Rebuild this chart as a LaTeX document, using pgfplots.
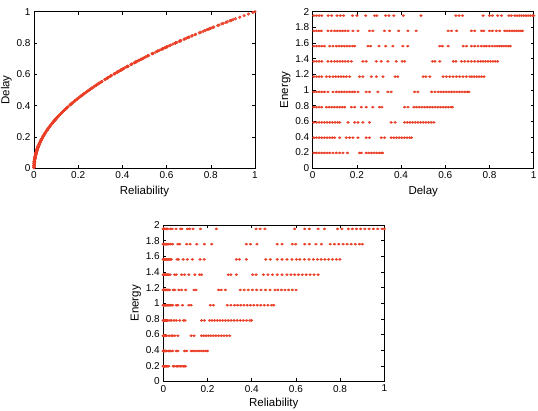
\documentclass[border=0pt]{standalone}
\usepackage{fontspec}
\setmainfont{Liberation Sans}
\usepackage{pgfplots}
\usepackage{pgfplotstable}
\pgfplotsset{compat=1.18}

\definecolor{dotred}{RGB}{234,62,38}

% Sampled solutions: delay d, reliability r, energy e
\pgfplotstableread{
d r e
0.005 0.0000 0.195
0.017 0.0003 0.195
0.029 0.0008 0.195
0.041 0.0017 0.195
0.053 0.0028 0.195
0.065 0.0042 0.195
0.077 0.0059 0.195
0.092 0.0085 0.195
0.107 0.0114 0.195
0.122 0.0149 0.195
0.137 0.0188 0.195
0.157 0.0246 0.195
0.212 0.0449 0.195
0.220 0.0484 0.195
0.242 0.0586 0.195
0.254 0.0645 0.195
0.266 0.0708 0.195
0.278 0.0773 0.195
0.290 0.0841 0.195
0.302 0.0912 0.195
0.312 0.0973 0.195
0.316 0.0999 0.195
0.005 0.0000 0.39
0.017 0.0003 0.39
0.029 0.0008 0.39
0.041 0.0017 0.39
0.053 0.0028 0.39
0.065 0.0042 0.39
0.077 0.0059 0.39
0.089 0.0079 0.39
0.099 0.0098 0.39
0.122 0.0149 0.39
0.152 0.0231 0.39
0.167 0.0279 0.39
0.182 0.0331 0.39
0.205 0.0420 0.39
0.242 0.0586 0.39
0.257 0.0660 0.39
0.310 0.0961 0.39
0.325 0.1056 0.39
0.355 0.1260 0.39
0.367 0.1347 0.39
0.379 0.1436 0.39
0.391 0.1529 0.39
0.403 0.1624 0.39
0.415 0.1722 0.39
0.427 0.1823 0.39
0.439 0.1927 0.39
0.447 0.1998 0.39
0.005 0.0000 0.585
0.017 0.0003 0.585
0.029 0.0008 0.585
0.041 0.0017 0.585
0.053 0.0028 0.585
0.065 0.0042 0.585
0.077 0.0059 0.585
0.089 0.0079 0.585
0.101 0.0102 0.585
0.113 0.0128 0.585
0.122 0.0149 0.585
0.160 0.0256 0.585
0.190 0.0361 0.585
0.205 0.0420 0.585
0.227 0.0515 0.585
0.257 0.0660 0.585
0.355 0.1260 0.585
0.373 0.1391 0.585
0.416 0.1731 0.585
0.428 0.1832 0.585
0.440 0.1936 0.585
0.452 0.2043 0.585
0.464 0.2153 0.585
0.476 0.2266 0.585
0.488 0.2381 0.585
0.500 0.2500 0.585
0.512 0.2621 0.585
0.524 0.2746 0.585
0.536 0.2873 0.585
0.548 0.3003 0.585
0.005 0.0000 0.78
0.017 0.0003 0.78
0.029 0.0008 0.78
0.041 0.0017 0.78
0.062 0.0038 0.78
0.074 0.0055 0.78
0.086 0.0074 0.78
0.098 0.0096 0.78
0.110 0.0121 0.78
0.122 0.0149 0.78
0.134 0.0180 0.78
0.145 0.0210 0.78
0.175 0.0306 0.78
0.190 0.0361 0.78
0.220 0.0484 0.78
0.242 0.0586 0.78
0.272 0.0740 0.78
0.302 0.0912 0.78
0.313 0.0980 0.78
0.416 0.1731 0.78
0.431 0.1858 0.78
0.458 0.2098 0.78
0.470 0.2209 0.78
0.482 0.2323 0.78
0.494 0.2440 0.78
0.506 0.2560 0.78
0.518 0.2683 0.78
0.530 0.2809 0.78
0.542 0.2938 0.78
0.554 0.3069 0.78
0.566 0.3204 0.78
0.578 0.3341 0.78
0.590 0.3481 0.78
0.602 0.3624 0.78
0.614 0.3770 0.78
0.626 0.3919 0.78
0.632 0.3994 0.78
0.005 0.0000 0.975
0.017 0.0003 0.975
0.029 0.0008 0.975
0.041 0.0017 0.975
0.053 0.0028 0.975
0.069 0.0048 0.975
0.092 0.0085 0.975
0.107 0.0114 0.975
0.119 0.0142 0.975
0.131 0.0172 0.975
0.143 0.0204 0.975
0.155 0.0240 0.975
0.167 0.0279 0.975
0.179 0.0320 0.975
0.190 0.0361 0.975
0.205 0.0420 0.975
0.242 0.0586 0.975
0.257 0.0660 0.975
0.295 0.0870 0.975
0.340 0.1156 0.975
0.355 0.1260 0.975
0.461 0.2125 0.975
0.476 0.2266 0.975
0.538 0.2894 0.975
0.553 0.3058 0.975
0.568 0.3226 0.975
0.580 0.3364 0.975
0.592 0.3505 0.975
0.604 0.3648 0.975
0.616 0.3795 0.975
0.628 0.3944 0.975
0.640 0.4096 0.975
0.652 0.4251 0.975
0.664 0.4409 0.975
0.676 0.4570 0.975
0.688 0.4733 0.975
0.700 0.4900 0.975
0.707 0.4998 0.975
0.005 0.0000 1.17
0.017 0.0003 1.17
0.029 0.0008 1.17
0.041 0.0017 1.17
0.062 0.0038 1.17
0.077 0.0059 1.17
0.092 0.0085 1.17
0.104 0.0108 1.17
0.116 0.0135 1.17
0.128 0.0164 1.17
0.140 0.0196 1.17
0.152 0.0231 1.17
0.167 0.0279 1.17
0.212 0.0449 1.17
0.227 0.0515 1.17
0.265 0.0702 1.17
0.288 0.0829 1.17
0.318 0.1011 1.17
0.373 0.1391 1.17
0.385 0.1482 1.17
0.500 0.2500 1.17
0.512 0.2621 1.17
0.530 0.2809 1.17
0.590 0.3481 1.17
0.605 0.3660 1.17
0.620 0.3844 1.17
0.635 0.4032 1.17
0.650 0.4225 1.17
0.665 0.4422 1.17
0.680 0.4624 1.17
0.695 0.4830 1.17
0.711 0.5055 1.17
0.720 0.5184 1.17
0.731 0.5344 1.17
0.742 0.5506 1.17
0.753 0.5670 1.17
0.764 0.5837 1.17
0.775 0.6006 1.17
0.005 0.0000 1.365
0.017 0.0003 1.365
0.029 0.0008 1.365
0.041 0.0017 1.365
0.069 0.0048 1.365
0.084 0.0071 1.365
0.099 0.0098 1.365
0.111 0.0123 1.365
0.123 0.0151 1.365
0.135 0.0182 1.365
0.147 0.0216 1.365
0.160 0.0256 1.365
0.175 0.0306 1.365
0.227 0.0515 1.365
0.242 0.0586 1.365
0.288 0.0829 1.365
0.310 0.0961 1.365
0.340 0.1156 1.365
0.378 0.1429 1.365
0.405 0.1640 1.365
0.416 0.1731 1.365
0.542 0.2938 1.365
0.553 0.3058 1.365
0.575 0.3306 1.365
0.636 0.4045 1.365
0.648 0.4199 1.365
0.673 0.4529 1.365
0.688 0.4733 1.365
0.703 0.4942 1.365
0.718 0.5155 1.365
0.733 0.5373 1.365
0.748 0.5595 1.365
0.760 0.5776 1.365
0.771 0.5944 1.365
0.782 0.6115 1.365
0.793 0.6288 1.365
0.804 0.6464 1.365
0.815 0.6642 1.365
0.826 0.6823 1.365
0.837 0.7006 1.365
0.005 0.0000 1.56
0.017 0.0003 1.56
0.029 0.0008 1.56
0.041 0.0017 1.56
0.053 0.0028 1.56
0.077 0.0059 1.56
0.092 0.0085 1.56
0.107 0.0114 1.56
0.119 0.0142 1.56
0.131 0.0172 1.56
0.143 0.0204 1.56
0.155 0.0240 1.56
0.167 0.0279 1.56
0.180 0.0324 1.56
0.190 0.0361 1.56
0.250 0.0625 1.56
0.262 0.0686 1.56
0.300 0.0900 1.56
0.330 0.1089 1.56
0.363 0.1318 1.56
0.408 0.1665 1.56
0.430 0.1849 1.56
0.575 0.3306 1.56
0.587 0.3446 1.56
0.613 0.3758 1.56
0.681 0.4638 1.56
0.696 0.4844 1.56
0.718 0.5155 1.56
0.733 0.5373 1.56
0.748 0.5595 1.56
0.763 0.5822 1.56
0.776 0.6022 1.56
0.786 0.6178 1.56
0.799 0.6384 1.56
0.812 0.6593 1.56
0.824 0.6790 1.56
0.835 0.6972 1.56
0.845 0.7140 1.56
0.855 0.7310 1.56
0.865 0.7482 1.56
0.875 0.7656 1.56
0.885 0.7832 1.56
0.894 0.7992 1.56
0.005 0.0000 1.755
0.017 0.0003 1.755
0.029 0.0008 1.755
0.039 0.0015 1.755
0.069 0.0048 1.755
0.084 0.0071 1.755
0.099 0.0098 1.755
0.111 0.0123 1.755
0.123 0.0151 1.755
0.135 0.0182 1.755
0.147 0.0216 1.755
0.160 0.0256 1.755
0.182 0.0331 1.755
0.205 0.0420 1.755
0.257 0.0660 1.755
0.272 0.0740 1.755
0.325 0.1056 1.755
0.348 0.1211 1.755
0.389 0.1513 1.755
0.431 0.1858 1.755
0.468 0.2190 1.755
0.613 0.3758 1.755
0.628 0.3944 1.755
0.651 0.4238 1.755
0.718 0.5155 1.755
0.733 0.5373 1.755
0.764 0.5837 1.755
0.774 0.5991 1.755
0.800 0.6400 1.755
0.813 0.6610 1.755
0.831 0.6906 1.755
0.846 0.7157 1.755
0.869 0.7552 1.755
0.880 0.7744 1.755
0.891 0.7939 1.755
0.902 0.8136 1.755
0.912 0.8317 1.755
0.922 0.8501 1.755
0.932 0.8686 1.755
0.942 0.8874 1.755
0.949 0.9006 1.755
0.005 0.0000 1.95
0.017 0.0003 1.95
0.029 0.0008 1.95
0.041 0.0017 1.95
0.070 0.0049 1.95
0.086 0.0074 1.95
0.110 0.0121 1.95
0.125 0.0156 1.95
0.140 0.0196 1.95
0.180 0.0324 1.95
0.200 0.0400 1.95
0.240 0.0576 1.95
0.280 0.0784 1.95
0.290 0.0841 1.95
0.330 0.1089 1.95
0.345 0.1190 1.95
0.367 0.1347 1.95
0.410 0.1681 1.95
0.490 0.2401 1.95
0.648 0.4199 1.95
0.662 0.4382 1.95
0.678 0.4597 1.95
0.771 0.5944 1.95
0.800 0.6400 1.95
0.813 0.6610 1.95
0.837 0.7006 1.95
0.854 0.7293 1.95
0.888 0.7885 1.95
0.899 0.8082 1.95
0.915 0.8372 1.95
0.925 0.8556 1.95
0.935 0.8742 1.95
0.945 0.8930 1.95
0.955 0.9120 1.95
0.965 0.9312 1.95
0.975 0.9506 1.95
0.985 0.9702 1.95
0.995 0.9900 1.95
1.000 1.0000 1.95
}\pts

\pgfplotsset{
  panel/.style={
    scale only axis,
    width=221pt, height=156.5pt,
    xmin=0, xmax=1, ymin=0,
    xtick={0,0.2,0.4,0.6,0.8,1},
    tick align=inside,
    major tick length=3pt,
    axis line style={black, line width=0.6pt},
    every tick/.style={black, line width=0.5pt},
    tick label style={font=\fontsize{10}{12}\selectfont},
    label style={font=\fontsize{11.5}{13}\selectfont},
    ylabel style={yshift=-2pt},
    /pgf/number format/assume math mode=true,
  },
  dots/.style={only marks, color=dotred, mark=*, mark size=#1,
    mark options={draw=none, fill=dotred, fill opacity=0.85}},
}

\begin{document}
\begin{tikzpicture}
\useasboundingbox (0,0) rectangle (538pt,-411pt);

% Delay against reliability
\begin{axis}[panel, at={(34pt,-11.7pt)}, anchor=north west,
  ymax=1, ytick={0,0.2,0.4,0.6,0.8,1},
  xlabel={Reliability}, ylabel={Delay}]
  \addplot[dots=1.4pt] table[x=r, y=d] {\pts};
\end{axis}

% Energy against delay
\begin{axis}[panel, at={(312.7pt,-11.7pt)}, anchor=north west,
  ymax=2, ytick={0,0.2,0.4,0.6,0.8,1,1.2,1.4,1.6,1.8,2},
  xlabel={Delay}, ylabel={Energy}]
  \addplot[dots=1.05pt, mark options={xscale=1.3}] table[x=d, y=e] {\pts};
\end{axis}

% Energy against reliability
\begin{axis}[panel, at={(163.3pt,-225pt)}, anchor=north west,
  ymax=2, ytick={0,0.2,0.4,0.6,0.8,1,1.2,1.4,1.6,1.8,2},
  xlabel={Reliability}, ylabel={Energy},
  xlabel style={yshift=1pt}]
  \addplot[dots=1.05pt, mark options={xscale=1.3}] table[x=r, y=e] {\pts};
\end{axis}
\end{tikzpicture}
\end{document}
